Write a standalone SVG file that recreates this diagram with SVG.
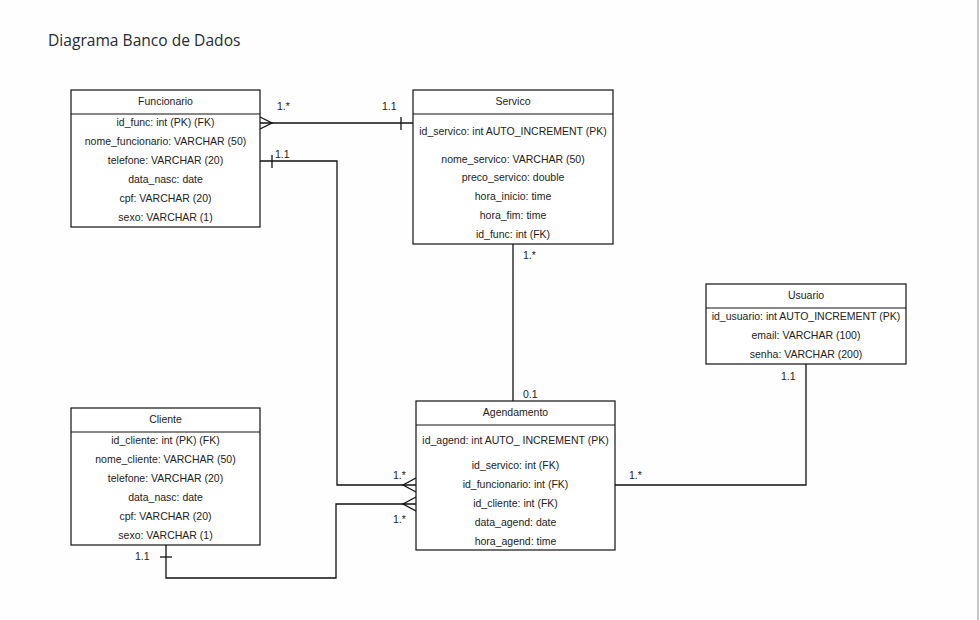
<svg xmlns="http://www.w3.org/2000/svg" width="980" height="620" viewBox="0 0 980 620">
  <style>
    .bg { fill: #fefefe; }
    .edge-rule { stroke: #c4c6cc; stroke-width: 2; }
    .title { font-family: "Open Sans", "Liberation Sans", sans-serif; font-size: 15.6px; fill: #262a31; }
    .box { fill: #ffffff; stroke: #111; stroke-width: 1.2; }
    .sep { stroke: #111; stroke-width: 1.2; }
    .t { font-family: "Liberation Sans", Arial, sans-serif; font-size: 10.5px; fill: #222; text-anchor: middle; dominant-baseline: central; }
    .lbl { font-family: "Liberation Sans", Arial, sans-serif; font-size: 10.5px; fill: #222; dominant-baseline: central; }
    .wire { fill: none; stroke: #111; stroke-width: 1.3; }
  </style>

  <rect class="bg" x="0" y="0" width="980" height="620"/>
  <line class="edge-rule" x1="978" y1="0" x2="978" y2="620"/>

  <text class="title" x="48" y="46">Diagrama Banco de Dados</text>

  <!-- relationships -->
  <g id="connectors">
    <!-- Funcionario (many) — Servico (one) -->
    <path class="wire" d="M260,123 H413"/>
    <path class="wire" d="M260,117 L272,123 L260,129"/>
    <path class="wire" d="M401,117 V130"/>
    <text class="lbl" x="277" y="106">1.*</text>
    <text class="lbl" x="382" y="106">1.1</text>

    <!-- Funcionario (one) — Agendamento (many) -->
    <path class="wire" d="M260,161 H337 V485 H416"/>
    <path class="wire" d="M272,155 V168"/>
    <path class="wire" d="M416,478 L403,485 L416,492"/>
    <text class="lbl" x="275" y="154">1.1</text>
    <text class="lbl" x="393" y="475">1.*</text>

    <!-- Servico (many) — Agendamento (zero or one) -->
    <path class="wire" d="M513,244 V401"/>
    <text class="lbl" x="523" y="255">1.*</text>
    <text class="lbl" x="523" y="394">0.1</text>

    <!-- Usuario (one) — Agendamento (many) -->
    <path class="wire" d="M806,364 V485 H615"/>
    <text class="lbl" x="781" y="376">1.1</text>
    <text class="lbl" x="629" y="475">1.*</text>

    <!-- Cliente (one) — Agendamento (many) -->
    <path class="wire" d="M166,545 V578 H336 V504 H416"/>
    <path class="wire" d="M160,557 H172"/>
    <path class="wire" d="M416,497 L403,504 L416,511"/>
    <text class="lbl" x="135" y="556">1.1</text>
    <text class="lbl" x="393" y="519">1.*</text>
  </g>

  <g id="funcionario">
    <rect class="box" x="71" y="90" width="189" height="137"/>
    <line class="sep" x1="71" y1="114" x2="260" y2="114"/>
    <text class="t" x="165.5" y="100.5">Funcionario</text>
    <text class="t" x="165.5" y="121.5">id_func: int (PK) (FK)</text>
    <text class="t" x="165.5" y="140.5">nome_funcionario: VARCHAR (50)</text>
    <text class="t" x="165.5" y="159.5">telefone: VARCHAR (20)</text>
    <text class="t" x="165.5" y="178.5">data_nasc: date</text>
    <text class="t" x="165.5" y="197.5">cpf: VARCHAR (20)</text>
    <text class="t" x="165.5" y="216.5">sexo: VARCHAR (1)</text>
  </g>

  <g id="servico">
    <rect class="box" x="413" y="90" width="200" height="154"/>
    <line class="sep" x1="413" y1="114" x2="613" y2="114"/>
    <text class="t" x="513" y="100.5">Servico</text>
    <text class="t" x="513" y="130.5">id_servico: int AUTO_INCREMENT (PK)</text>
    <text class="t" x="513" y="158.5">nome_servico: VARCHAR (50)</text>
    <text class="t" x="513" y="176.5">preco_servico: double</text>
    <text class="t" x="513" y="195.5">hora_inicio: time</text>
    <text class="t" x="513" y="214.5">hora_fim: time</text>
    <text class="t" x="513" y="233.5">id_func: int (FK)</text>
  </g>

  <g id="usuario">
    <rect class="box" x="706" y="284" width="200" height="80"/>
    <line class="sep" x1="706" y1="308" x2="906" y2="308"/>
    <text class="t" x="806" y="294.5">Usuario</text>
    <text class="t" x="806" y="315.5">id_usuario: int AUTO_INCREMENT (PK)</text>
    <text class="t" x="806" y="334.5">email: VARCHAR (100)</text>
    <text class="t" x="806" y="353.5">senha: VARCHAR (200)</text>
  </g>

  <g id="cliente">
    <rect class="box" x="71" y="408" width="189" height="137"/>
    <line class="sep" x1="71" y1="432" x2="260" y2="432"/>
    <text class="t" x="165.5" y="418.5">Cliente</text>
    <text class="t" x="165.5" y="439.5">id_cliente: int (PK) (FK)</text>
    <text class="t" x="165.5" y="458.5">nome_cliente: VARCHAR (50)</text>
    <text class="t" x="165.5" y="477.5">telefone: VARCHAR (20)</text>
    <text class="t" x="165.5" y="496.5">data_nasc: date</text>
    <text class="t" x="165.5" y="515.5">cpf: VARCHAR (20)</text>
    <text class="t" x="165.5" y="534.5">sexo: VARCHAR (1)</text>
  </g>

  <g id="agendamento">
    <rect class="box" x="416" y="401" width="199" height="149"/>
    <line class="sep" x1="416" y1="425" x2="615" y2="425"/>
    <text class="t" x="515.5" y="411.5">Agendamento</text>
    <text class="t" x="515.5" y="439.5">id_agend: int AUTO_ INCREMENT (PK)</text>
    <text class="t" x="515.5" y="464.5">id_servico: int (FK)</text>
    <text class="t" x="515.5" y="483.5">id_funcionario: int (FK)</text>
    <text class="t" x="515.5" y="502.5">id_cliente: int (FK)</text>
    <text class="t" x="515.5" y="521.5">data_agend: date</text>
    <text class="t" x="515.5" y="540.5">hora_agend: time</text>
  </g>
</svg>
